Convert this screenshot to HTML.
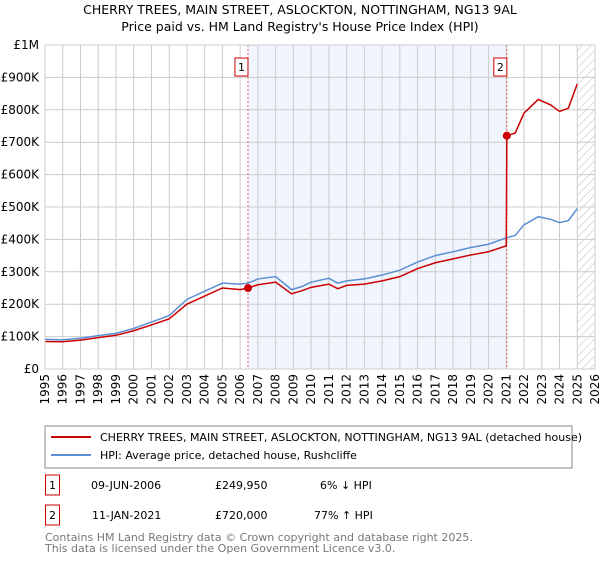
<!DOCTYPE html>
<html><head><meta charset="utf-8"><style>
body{margin:0;background:#fff;font-family:"DejaVu Sans","Liberation Sans",sans-serif;}
svg text{font-family:"DejaVu Sans","Liberation Sans",sans-serif;}
</style></head><body>
<svg id="c" width="600" height="560" xmlns="http://www.w3.org/2000/svg">
<defs><pattern id="hatch" width="6" height="6" patternUnits="userSpaceOnUse" patternTransform="rotate(45)"><line x1="0" y1="0" x2="0" y2="6" stroke="#bbb" stroke-width="1"/></pattern></defs>
<text x="300" y="14" text-anchor="middle" font-size="12.5" fill="#000">CHERRY TREES, MAIN STREET, ASLOCKTON, NOTTINGHAM, NG13 9AL</text>
<text x="300" y="31" text-anchor="middle" font-size="12.5" fill="#000">Price paid vs. HM Land Registry's House Price Index (HPI)</text>
<g id="grid"></g><g id="marks"></g><g id="axes"></g>
<rect x="45" y="426" width="527" height="42" fill="#fff" stroke="#888"/>
<line x1="51" y1="437" x2="91" y2="437" stroke="#cc0000" stroke-width="2"/>
<text x="100" y="441" font-size="11">CHERRY TREES, MAIN STREET, ASLOCKTON, NOTTINGHAM, NG13 9AL (detached house)</text>
<line x1="51" y1="455" x2="91" y2="455" stroke="#5b8fd4" stroke-width="2"/>
<text x="100" y="459" font-size="11">HPI: Average price, detached house, Rushcliffe</text>
<g>
<rect x="45.5" y="475" width="14" height="20" fill="#fff" stroke="#cc0000"/><text x="52.5" y="489" font-size="11" text-anchor="middle">1</text>
<text x="91" y="489" font-size="11">09-JUN-2006</text><text x="215" y="489" font-size="11">£249,950</text><text x="320" y="489" font-size="11">6% ↓ HPI</text></g>
<g>
<rect x="45.5" y="505" width="14" height="20" fill="#fff" stroke="#cc0000"/><text x="52.5" y="519" font-size="11" text-anchor="middle">2</text>
<text x="92" y="519" font-size="11">11-JAN-2021</text><text x="215" y="519" font-size="11">£720,000</text><text x="314" y="519" font-size="11">77% ↑ HPI</text></g>
<text x="45" y="541" font-size="11" fill="#777">Contains HM Land Registry data © Crown copyright and database right 2025.</text>
<text x="45" y="552" font-size="11" fill="#777">This data is licensed under the Open Government Licence v3.0.</text>
</svg>
<script>
const hpiYears=[1995,1996,1997,1998,1999,2000,2001,2002,2003,2004,2005,2006,2006.44,2007,2008,2008.9,2009.5,2010,2011,2011.5,2012,2013,2014,2015,2016,2017,2018,2019,2020,2021,2021.5,2022,2022.8,2023.5,2024,2024.5,2025];
const hpiValues=[92,90,95,103,110,125,145,165,215,240,265,262,265,278,285,245,255,268,280,265,272,278,290,305,330,350,362,375,385,405,412,445,470,462,452,458,495];
const redYears=[1995,1996,1997,1998,1999,2000,2001,2002,2003,2004,2005,2006,2006.44,2007,2008,2008.9,2009.5,2010,2011,2011.5,2012,2013,2014,2015,2016,2017,2018,2019,2020,2021.0,2021.03,2021.5,2022,2022.8,2023.5,2024,2024.5,2025];
const redValues=[85,84,89,97,104,118,136,155,200,225,250,245,250,260,268,232,242,252,262,248,258,262,272,285,310,328,340,352,362,380,720,728,790,832,815,795,805,880];
const saleYears=[2006.44,2021.03];
const saleValues=[249.95,720];
const saleLabels=["1","2"];
const yTicks=[0,100,200,300,400,500,600,700,800,900,1000];
const yTickLabels=["£0","£100K","£200K","£300K","£400K","£500K","£600K","£700K","£800K","£900K","£1M"];
const xTicks=[1995,1996,1997,1998,1999,2000,2001,2002,2003,2004,2005,2006,2007,2008,2009,2010,2011,2012,2013,2014,2015,2016,2017,2018,2019,2020,2021,2022,2023,2024,2025,2026];
const X0=45,X1=595,Y0=369,Y1=45;
const xs=y=>X0+(y-1995)/(2026-1995)*(X1-X0);
const ys=v=>Y0-v/1000*(Y0-Y1);
const NS="http://www.w3.org/2000/svg";
function mk(p,t,a){const e=document.createElementNS(NS,t);for(const k in a)e.setAttribute(k,a[k]);p.appendChild(e);return e;}
const grid=document.getElementById('grid'),marks=document.getElementById('marks'),axes=document.getElementById('axes');
const shade=mk(grid,'rect',{x:xs(saleYears[0]),y:Y1,width:xs(saleYears[1])-xs(saleYears[0]),height:Y0-Y1,fill:'#eef2fc',opacity:0.8});


const hat=mk(grid,'rect',{x:xs(2025),y:Y1,width:X1-xs(2025),height:Y0-Y1,fill:'url(#hatch)'});


yTicks.forEach((v,i)=>{
  const l=mk(grid,'line',{x1:X0,x2:X1,y1:ys(v),y2:ys(v),stroke:'#ccc'});
  
  
  const t=mk(axes,'text',{x:X0-6,y:ys(v)+4,'text-anchor':'end','font-size':12});
  
  
  t.textContent=yTickLabels[i];
});
xTicks.forEach(y=>{
  const l=mk(grid,'line',{x1:xs(y),x2:xs(y),y1:Y1,y2:Y0,stroke:'#ccc'});
  
  
  const t=mk(axes,'text',{x:0,y:0,'font-size':12,'text-anchor':'end',transform:`translate(${xs(y)+4},${Y0+5}) rotate(-90)`});
  
  
  t.textContent=y;
});
const frame=mk(axes,'rect',{x:X0,y:Y1,width:X1-X0,height:Y0-Y1,fill:'none',stroke:'#ccc'});


saleYears.forEach((y,i)=>{
  const l=mk(marks,'line',{x1:xs(y),x2:xs(y),y1:Y1,y2:Y0,stroke:'#e06666','stroke-dasharray':'2,2'});
  
  
  const r=mk(marks,'rect',{x:xs(y)-13,y:58,width:13,height:18,fill:'#fff',stroke:'#cc0000'});
  
  
  const t=mk(marks,'text',{x:xs(y)-6.5,y:71,'font-size':11,'text-anchor':'middle'});
  
  
  t.textContent=saleLabels[i];
});
const hp=mk(marks,'polyline',{points:hpiYears.map((y,i)=>xs(y)+','+ys(hpiValues[i])).join(' '),fill:'none',stroke:'#5b8fd4','stroke-width':1.5});


const rl=mk(marks,'polyline',{points:redYears.map((y,i)=>xs(y)+','+ys(redValues[i])).join(' '),fill:'none',stroke:'#cc0000','stroke-width':1.5});


saleYears.forEach((y,i)=>{
  const c=mk(marks,'circle',{cx:xs(y),cy:ys(saleValues[i]),r:4,fill:'#cc0000'});
  
  
});
</script>
</body></html>
